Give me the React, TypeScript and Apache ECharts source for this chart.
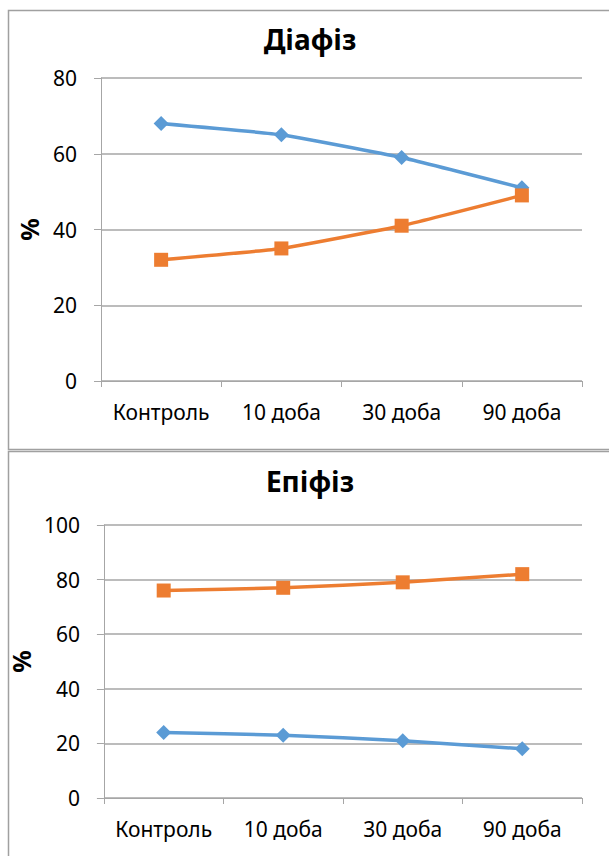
import React, { useEffect, useRef } from "react";
import * as echarts from "echarts";

const categories = ["Контроль", "10 доба", "30 доба", "90 доба"];
const diafizBlue = [68, 65, 59, 51];
const diafizOrange = [32, 35, 41, 49];
const epifizBlue = [24, 23, 21, 18];
const epifizOrange = [76, 77, 79, 82];
const titles = ["Діафіз", "Епіфіз"];
const yLabel = "%";

const FONT = "'Noto Sans', 'Open Sans', sans-serif";
const BLUE = "#5B9BD5";
const ORANGE = "#ED7D31";
const GRID = "#A6A6A6";

export default function App() {
  const ref = useRef<HTMLDivElement>(null);
  useEffect(() => {
    if (!ref.current) return;
    const chart = echarts.init(ref.current, undefined, { renderer: "svg" });
    const xAxisCommon = {
      type: "category",
      data: categories,
      boundaryGap: true,
      axisLine: { show: true, lineStyle: { color: GRID, width: 1 } },
      axisTick: { show: true, length: 6, interval: 0, lineStyle: { color: GRID } },
      axisLabel: {
        color: "#000",
        fontFamily: FONT,
        fontSize: 21,
        margin: 20,
        interval: 0,
        hideOverlap: false,
      },
      splitLine: { show: false },
    };
    const yAxisCommon = {
      type: "value",
      min: 0,
      interval: 20,
      name: yLabel,
      nameLocation: "middle",
      nameRotate: 90,
      nameGap: 60,
      nameTextStyle: { color: "#000", fontFamily: FONT, fontSize: 25, fontWeight: "bold" },
      axisLine: { show: true, lineStyle: { color: GRID, width: 1 } },
      axisTick: { show: true, length: 7, lineStyle: { color: GRID } },
      axisLabel: { color: "#000", fontFamily: FONT, fontSize: 21, margin: 24 },
      splitLine: { show: true, lineStyle: { color: GRID, width: 1.5 } },
    };
    const lineSeries = (data: number[], color: string, symbol: string, size: number, xi: number) => ({
      type: "line",
      data,
      xAxisIndex: xi,
      yAxisIndex: xi,
      smooth: 0.12,
      symbol,
      symbolSize: size,
      lineStyle: { color, width: 3.5 },
      itemStyle: { color },
    });
    chart.setOption({
      animation: false,
      backgroundColor: "#fff",
      title: [
        {
          text: titles[0],
          left: 305,
          top: 20,
          textAlign: "center",
          textStyle: { fontFamily: FONT, fontSize: 28, fontWeight: "bold", color: "#000" },
        },
        {
          text: titles[1],
          left: 305,
          top: 462,
          textAlign: "center",
          textStyle: { fontFamily: FONT, fontSize: 28, fontWeight: "bold", color: "#000" },
        },
      ],
      graphic: [
        {
          type: "rect",
          shape: { x: 8.5, y: 10.5, width: 700, height: 439 },
          style: { fill: "none", stroke: "#A0A0A0", lineWidth: 1.5 },
          silent: true,
        },
        {
          type: "rect",
          shape: { x: 8.5, y: 451.5, width: 700, height: 500 },
          style: { fill: "none", stroke: "#A0A0A0", lineWidth: 1.5 },
          silent: true,
        },
      ],
      grid: [
        { left: 101, top: 78, width: 481, height: 303 },
        { left: 101, top: 525, width: 481, height: 273 },
      ],
      xAxis: [
        { ...xAxisCommon, gridIndex: 0 },
        { ...xAxisCommon, gridIndex: 1 },
      ],
      yAxis: [
        { ...yAxisCommon, gridIndex: 0, max: 80 },
        { ...yAxisCommon, gridIndex: 1, max: 100 },
      ],
      series: [
        lineSeries(diafizBlue, BLUE, "diamond", 15, 0),
        lineSeries(diafizOrange, ORANGE, "rect", 14, 0),
        lineSeries(epifizBlue, BLUE, "diamond", 15, 1),
        lineSeries(epifizOrange, ORANGE, "rect", 14, 1),
      ],
    });
    return () => chart.dispose();
  }, []);
  return (
    <div
      ref={ref}
      style={{ position: "fixed", left: 0, top: 0, width: 609, height: 856 }}
    />
  );
}
